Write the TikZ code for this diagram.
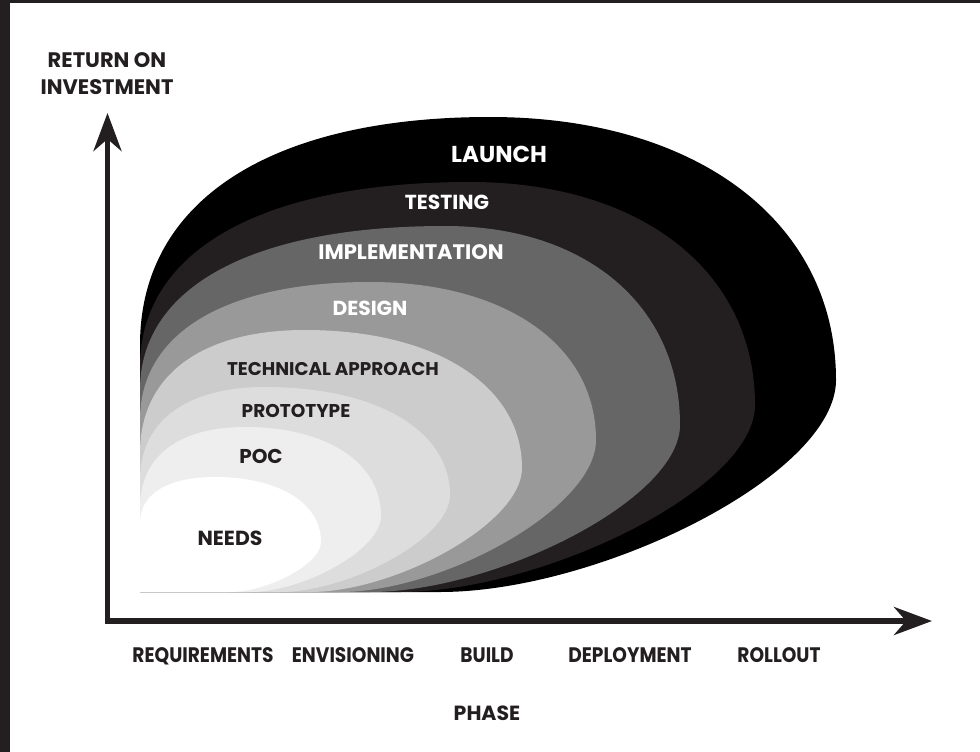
\documentclass[tikz,border=0pt]{standalone}
\usepackage{fontspec}
\setmainfont{Poppins}
\newfontfamily\condfont{Poppins}[FakeStretch=0.885]
\usetikzlibrary{arrows.meta}
\definecolor{ink}{HTML}{231F20}
\definecolor{cLaunch}{HTML}{000000}
\definecolor{cTesting}{HTML}{231F20}
\definecolor{cImpl}{HTML}{666666}
\definecolor{cDesign}{HTML}{999999}
\definecolor{cTech}{HTML}{CCCCCC}
\definecolor{cProto}{HTML}{DDDDDD}
\definecolor{cPoc}{HTML}{EEEEEE}
\definecolor{cNeeds}{HTML}{FFFFFF}
\newcommand\fsz[1]{\fontsize{#1}{#1}\selectfont\bfseries}
% #1 left y, #2,#3 top, #4,#5 right, #6 tail x, #7 colour
\newcommand\phaseblob[7]{%
  \fill[#7] (140,592) -- (140,#1)
    .. controls (140,{#1-0.63*(#1-#3)}) and ({#2-0.63*(#2-140)},#3) .. (#2,#3)
    .. controls ({#2+0.6*(#4-#2)},#3) and (#4,{#5-0.6*(#5-#3)}) .. (#4,#5)
    .. controls (#4,{#5+0.45*(592-#5)}) and ({#6+0.4*(#4-#6)},592) .. (#6,592)
    -- cycle;}
\begin{document}
\begin{tikzpicture}[x=1pt,y=-1pt,
  lbl/.style={inner sep=0pt,anchor=base,text=ink},
  wlbl/.style={inner sep=0pt,anchor=base,text=white},
  axisline/.style={draw=ink,line width=5.5pt,line join=miter,
    {Stealth[length=38pt,width=28pt,inset=12pt]}-{Stealth[length=38pt,width=28pt,inset=12pt]}}]
\fill[white] (0,0) rectangle (980,752);
\useasboundingbox (0,0) rectangle (980,752);
\fill[ink] (0,0) rectangle (10,752);
\fill[ink] (0,0) rectangle (980,3);

\phaseblob{345}{490}{117}{836}{380}{440}{cLaunch}
\phaseblob{367}{470}{182}{755}{405}{400}{cTesting}
\phaseblob{390}{445}{226}{680}{425}{370}{cImpl}
\phaseblob{420}{370}{282}{596}{440}{340}{cDesign}
\phaseblob{453}{305}{330}{522}{468}{310}{cTech}
\phaseblob{480}{265}{387}{450}{495}{280}{cProto}
\phaseblob{507}{245}{427}{381}{516}{250}{cPoc}
\phaseblob{523}{215}{477}{321}{542}{230}{cNeeds}

\coordinate (ytop) at (107.5,113);
\coordinate (origin) at (107.5,621);
\coordinate (xend) at (932,621);
\draw[axisline] (ytop) -- (origin) -- (xend);

\node[lbl,font=\fsz{21}] (roi1) at (107,68) {RETURN ON};
\node[lbl,font=\fsz{21}] (roi2) at (107,94) {INVESTMENT};

\node[wlbl,font=\fsz{23}] (launch) at (499,162) {LAUNCH};
\node[wlbl,font=\fsz{20.3}] (testing) at (447,209) {TESTING};
\node[wlbl,font=\fsz{21}] (impl) at (411,259) {IMPLEMENTATION};
\node[wlbl,font=\fsz{20.3}] (design) at (370,315) {DESIGN};
\node[lbl,font=\fsz{18.4}] (tech) at (333,375) {TECHNICAL APPROACH};
\node[lbl,font=\fsz{18.5}] (proto) at (296,417) {PROTOTYPE};
\node[lbl,font=\fsz{20}] (poc) at (261,463) {POC};
\node[lbl,font=\fsz{20.4}] (needs) at (230,545) {NEEDS};

\node[lbl,font=\condfont\fsz{21}] (req) at (203,662) {REQUIREMENTS};
\node[lbl,font=\condfont\fsz{21}] (env) at (353,662) {ENVISIONING};
\node[lbl,font=\condfont\fsz{21}] (build) at (487,662) {BUILD};
\node[lbl,font=\condfont\fsz{21}] (deploy) at (630,662) {DEPLOYMENT};
\node[lbl,font=\condfont\fsz{21}] (rollout) at (779,662) {ROLLOUT};
\node[lbl,font=\fsz{20.5}] (phase) at (487,720) {PHASE};
\end{tikzpicture}
\end{document}
